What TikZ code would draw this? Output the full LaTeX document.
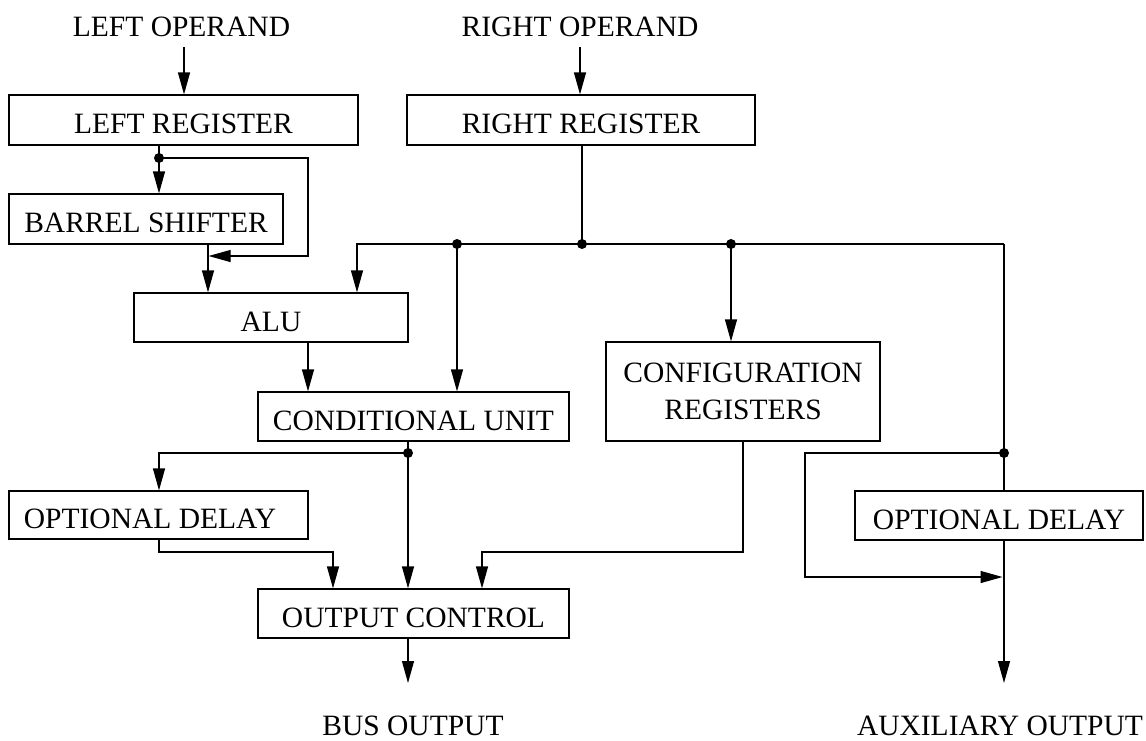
\documentclass[tikz,border=0pt]{standalone}
\usepackage{fontspec}
\setmainfont{Liberation Serif}
\usetikzlibrary{arrows.meta,calc}
\begin{document}
\begin{tikzpicture}[x=1pt,y=-1pt,
  font=\fontsize{29.5}{37}\selectfont,
  box/.style={draw, line width=1.2pt, inner sep=0pt, text height=27.5pt, text depth=0pt},
  tallbox/.style={draw, line width=1.2pt, inner sep=0pt, align=center},
  wire/.style={line width=1.2pt},
  arr/.style={wire, -{Triangle[length=22pt,width=12pt]}},
  lbl/.style={inner sep=0pt, anchor=base}]
\useasboundingbox (0,0) rectangle (1146,740);

% outer labels
\node[lbl] (lop) at (181.5,36) {LEFT OPERAND};
\node[lbl] (rop) at (580,36) {RIGHT OPERAND};
\node[lbl] (bus) at (413,735) {BUS OUTPUT};
\node[lbl] (aux) at (1000,735) {AUXILIARY OUTPUT};

% blocks
\node[box, minimum width=349pt, minimum height=50pt] (lreg) at (183.5,120) {LEFT REGISTER};
\node[box, minimum width=348pt, minimum height=50pt] (rreg) at (581,120) {RIGHT REGISTER};
\node[box, minimum width=274pt, minimum height=50pt] (bsh) at (146,219) {BARREL SHIFTER};
\node[box, minimum width=274pt, minimum height=49pt] (alu) at (271,317.5) {ALU};
\node[box, minimum width=311pt, minimum height=49pt] (cond) at (413.5,416.5) {CONDITIONAL UNIT};
\node[tallbox, minimum width=274pt, minimum height=99pt] (cfg) at (743,391.5) {CONFIGURATION\\REGISTERS};
\node[box, minimum width=299pt, minimum height=48pt] (od1) at (158.5,515) {\hspace*{-17pt}OPTIONAL DELAY};
\node[box, minimum width=288pt, minimum height=49pt] (od2) at (999,515.5) {OPTIONAL DELAY};
\node[box, minimum width=311pt, minimum height=49pt] (oc) at (413.5,613.5) {OUTPUT CONTROL};

% junctions and free ends
\coordinate (lin) at (184,47);
\coordinate (rin) at (580,47);
\coordinate (j1) at (159,158);
\coordinate (k1) at (308,256);
\coordinate (xb) at (208,256);
\coordinate (j2) at (582,244);
\coordinate (b0) at (357,244);
\coordinate (j3) at (457,244);
\coordinate (j4) at (731,244);
\coordinate (b1) at (1004,244);
\coordinate (j5) at (1004,453);
\coordinate (k2) at (805,577);
\coordinate (j6) at (408,453);
\coordinate (k3) at (159,552);
\coordinate (k4) at (743,552);
\coordinate (busin) at (408,683);
\coordinate (auxin) at (1004,683);

% operand inputs
\draw[arr] (lin) -- (lin |- lreg.north);
\draw[arr] (rin) -- (rin |- rreg.north);

% left datapath
\draw[wire] (j1 |- lreg.south) -- (j1);
\draw[arr] (j1) -- (j1 |- bsh.north);
\draw[arr] (j1) -| (k1) -- ([xshift=0.6pt]xb);
\draw[arr] (xb |- bsh.south) -- (xb |- alu.north);
\draw[arr] ([xshift=37pt]alu.south) -- ([xshift=37pt]alu.south |- cond.north);

% right operand bus
\draw[wire] (j2 |- rreg.south) -- (j2);
\draw[arr] (b1) -- (b0) -- (b0 |- alu.north);
\draw[arr] (j3) -- (j3 |- cond.north);
\draw[arr] (j4) -- (j4 |- cfg.north);

% auxiliary output path
\draw[wire] (b1) -- (b1 |- od2.north);
\draw[arr] (j5) -| (k2) -- ([xshift=-1.5pt]b1 |- k2);
\draw[arr] (b1 |- od2.south) -- (auxin);

% bus output path
\draw[wire] (j6 |- cond.south) -- (j6);
\draw[arr] (j6) -| (k3 |- od1.north);
\draw[arr] (j6) -- (j6 |- oc.north);
\draw[arr] (k3 |- od1.south) -- (k3) -| ([xshift=-80.5pt]oc.north);
\draw[arr] (k4 |- cfg.south) -- (k4) -| ([xshift=68.5pt]oc.north);
\draw[arr] (j6 |- oc.south) -- (busin);

% junction dots
\foreach \p in {j1,j2,j3,j4,j5,j6} \fill (\p) circle (5pt);
\end{tikzpicture}
\end{document}
